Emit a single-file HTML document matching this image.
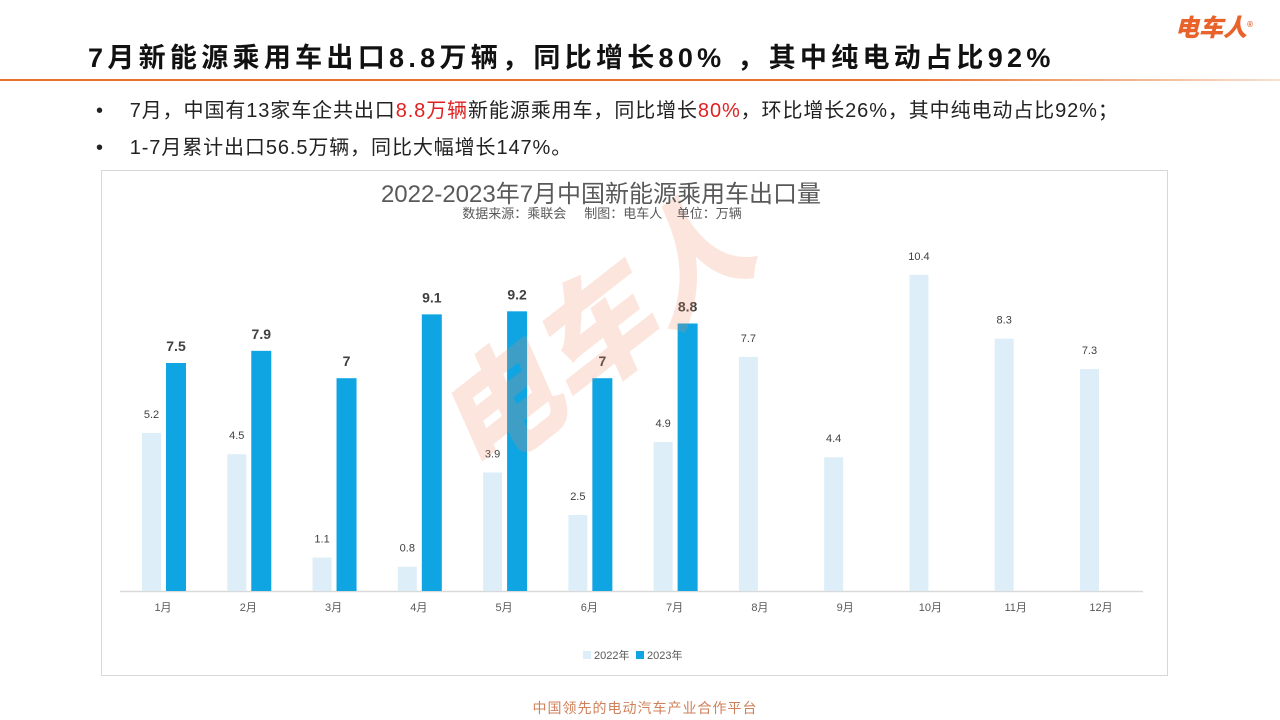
<!DOCTYPE html>
<html><head><meta charset="utf-8"><style>
body{margin:0;width:1280px;height:720px;background:#fff;position:relative;overflow:hidden;font-family:"Liberation Sans","Noto Sans CJK SC",sans-serif}
.a{position:absolute;white-space:nowrap}
</style></head><body>
<div class="a" style="left:1175px;top:8px;font-size:24px;font-weight:900;font-style:italic;color:#e8622a">电车人<sup style="font-size:8px">®</sup></div>
<div class="a" style="left:88px;top:36px;font-size:27px;font-weight:bold;color:#111;letter-spacing:4.3px">7月新能源乘用车出口8.8万辆，同比增长80% ，其中纯电动占比92%</div>
<div class="a" style="left:0;top:79px;width:1280px;height:2px;background:linear-gradient(90deg,#e8722a 70%,#f8e0d0)"></div>
<div class="a" style="left:96px;top:94px;font-size:20px;color:#222;letter-spacing:0.9px">•&nbsp;&nbsp;&nbsp;&nbsp;7月，中国有13家车企共出口<span style="color:#e02020">8.8万辆</span>新能源乘用车，同比增长<span style="color:#e02020">80%</span>，环比增长26%，其中纯电动占比92%；</div>
<div class="a" style="left:96px;top:131px;font-size:20px;color:#222;letter-spacing:0.9px">•&nbsp;&nbsp;&nbsp;&nbsp;1-7月累计出口56.5万辆，同比大幅增长147%。</div>
<div class="a" style="left:101px;top:170px;width:1065px;height:504px;border:1px solid #d8d8d8"></div>
<svg class="a" style="left:0;top:0" width="1280" height="720" font-family="Liberation Sans, Noto Sans CJK SC, sans-serif">
<line x1="120" y1="591.5" x2="1143" y2="591.5" stroke="#d9d9d9" stroke-width="1.5"/>
<g id="b"></g>
<text x="600" y="345" transform="rotate(-38 600 345)" font-size="120" font-weight="900" fill="#f08a60" fill-opacity="0.22" text-anchor="middle" dominant-baseline="middle" font-style="italic">电车人</text>
<rect x="583" y="651" width="8" height="8" fill="#ddeef9"/><text x="594" y="659" font-size="11" fill="#595959">2022年</text>
<rect x="636" y="651" width="8" height="8" fill="#0ea5e2"/><text x="647" y="659" font-size="11" fill="#595959">2023年</text>
</svg>
<div class="a" style="left:0;width:1202px;text-align:center;top:174px;font-size:24px;color:#595959">2022-2023年7月中国新能源乘用车出口量</div>
<div class="a" style="left:0;width:1204px;text-align:center;top:203px;font-size:13px;color:#595959">数据来源：乘联会&nbsp;&nbsp;&nbsp;&nbsp;&nbsp;制图：电车人&nbsp;&nbsp;&nbsp;&nbsp;单位：万辆</div>
<div class="a" style="left:0;width:1290px;text-align:center;top:698px;font-size:14px;color:#d0805a;letter-spacing:1px">中国领先的电动汽车产业合作平台</div>
<script>
var a=[5.2,4.5,1.1,0.8,3.9,2.5,4.9,7.7,4.4,10.4,8.3,7.3],b=[7.5,7.9,7,9.1,9.2,7,8.8],s=30.4,y0=591,h='';
for(var i=0;i<12;i++){var c=162+i*85.27;var t=y0-a[i]*s;
h+='<rect x="'+(c-20)+'" y="'+t+'" width="19" height="'+(a[i]*s)+'" fill="#ddeef9"/>';
h+='<text x="'+(c-10.5)+'" y="'+(t-15)+'" font-size="11" fill="#404040" text-anchor="middle">'+a[i]+'</text>';
h+='<text x="'+(c+1)+'" y="'+(y0+20)+'" font-size="11" fill="#595959" text-anchor="middle">'+(i+1)+'月</text>';
if(i<7){var u=y0-b[i]*s;h+='<rect x="'+(c+4)+'" y="'+u+'" width="20" height="'+(b[i]*s)+'" fill="#0ea5e2"/>';
h+='<text x="'+(c+14)+'" y="'+(u-12)+'" font-size="14" font-weight="bold" fill="#404040" text-anchor="middle">'+b[i]+'</text>';}}
document.getElementById('b').innerHTML=h;
</script>
</body></html>
